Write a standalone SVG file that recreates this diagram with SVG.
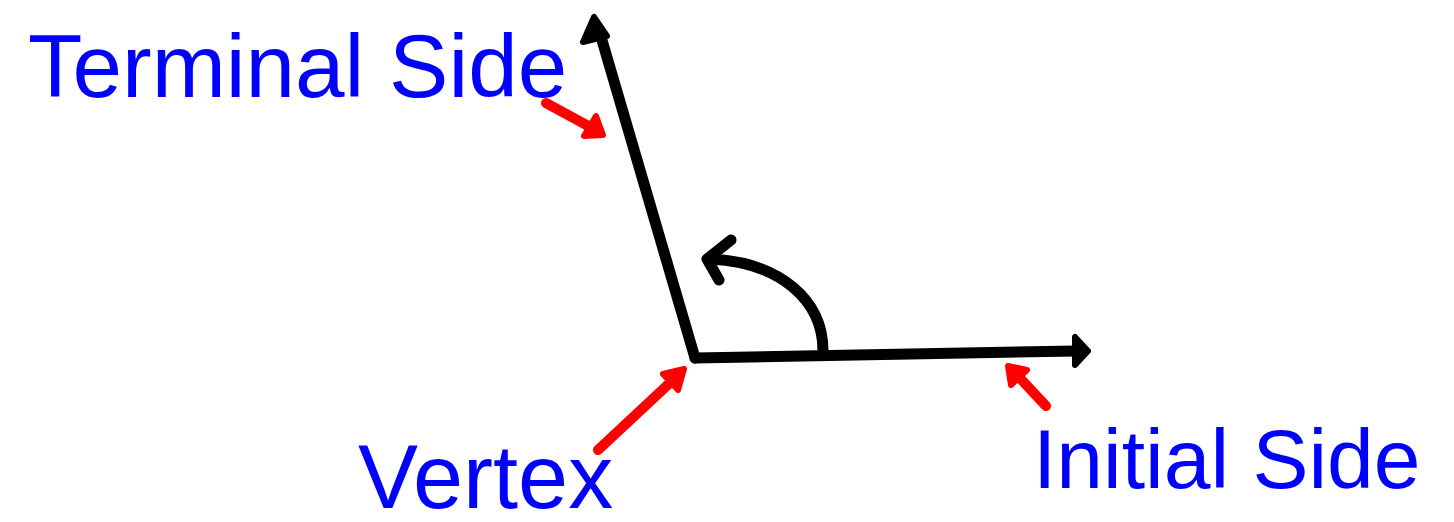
<svg xmlns="http://www.w3.org/2000/svg" width="1454" height="522" viewBox="0 0 1454 522">
<style>
.lbl{font-family:"Liberation Sans",Arial,sans-serif;fill:#0000ff}
.blk{stroke:#000;stroke-width:11;fill:none;stroke-linecap:round;stroke-linejoin:round}
.red{stroke:#ff0000;stroke-width:10;fill:none;stroke-linecap:round;stroke-linejoin:round}
.redh{fill:#ff0000;stroke:#ff0000;stroke-width:6;stroke-linejoin:round}
.blkh{fill:#000;stroke:#000;stroke-width:6;stroke-linejoin:round}
</style>
<rect width="1454" height="522" fill="#fff"/>
<g id="terminal-label"><text class="lbl" x="28" y="97" font-size="89">Terminal Side</text></g>
<g id="vertex-label"><text class="lbl" x="358" y="508" font-size="90">Vertex</text></g>
<g id="initial-label"><text class="lbl" x="1033" y="488" font-size="84">Initial Side</text></g>
<g id="connectors">
<path class="blk" d="M 695 358 L 599 30"/>
<path class="blkh" d="M 594 17 L 583 42 L 607 36 Z"/>
<path class="blk" d="M 695 358 L 1076 351"/>
<path class="blkh" d="M 1088 351 L 1075 337 L 1075 365 Z"/>
<path class="blk" d="M 823 351 C 823 300 780 262 710 259"/>
<path class="blk" d="M 731 240 L 707 259 L 719 280"/>
<path class="red" d="M 546 103 L 592 128"/>
<path class="redh" d="M 603 135 L 596 116 L 584 136 Z"/>
<path class="red" d="M 598 450 L 673 380"/>
<path class="redh" d="M 684 369 L 663 374 L 678 390 Z"/>
<path class="red" d="M 1046 406 L 1018 376"/>
<path class="redh" d="M 1008 366 L 1011 385 L 1027 370 Z"/>
</g>
</svg>
